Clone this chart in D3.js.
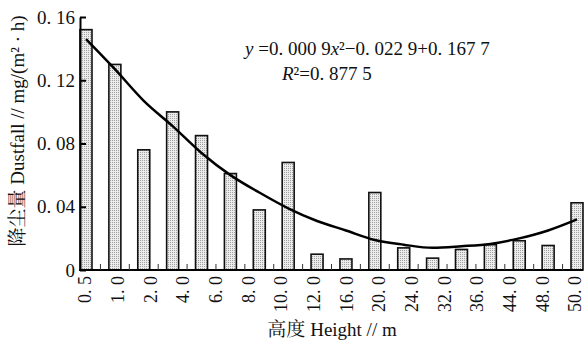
<!DOCTYPE html>
<html>
<head>
<meta charset="utf-8">
<script src="https://cdn.jsdelivr.net/npm/d3@7"></script>
<style>
  body { margin: 0; background: #fff; }
</style>
</head>
<body>
<div id="chart"></div>
<script>
// bars: 18 sampling heights
const barIndex = d3.range(1, 19);
const dustfall = [0.152, 0.130, 0.076, 0.100, 0.085, 0.061, 0.038, 0.068, 0.010,
  0.007, 0.049, 0.014, 0.0075, 0.013, 0.016, 0.0185, 0.0155, 0.0425];
// fitted trend line, read at each bar centre
const trend = [0.146, 0.127, 0.107, 0.091, 0.074, 0.060, 0.049, 0.039, 0.031,
  0.025, 0.019, 0.016, 0.014, 0.015, 0.0165, 0.020, 0.025, 0.032];
// tick labels printed under the axis
const heightLabels = ["0.5", "1.0", "2.0", "4.0", "6.0", "8.0", "10.0", "12.0",
  "16.0", "20.0", "24.0", "32.0", "36.0", "44.0", "48.0", "50.0"];
const yTicks = [0, 0.04, 0.08, 0.12, 0.16];

const width = 586, height = 342;
const SERIF = '"Liberation Serif"';
const SONG = '"Noto Serif CJK SC"';

const svg = d3.select("#chart").append("svg")
  .attr("width", width)
  .attr("height", height)
  .attr("viewBox", `0 0 ${width} ${height}`);

// dotted fill of the bars
const pat = svg.append("defs").append("pattern")
  .attr("id", "dots")
  .attr("width", 2).attr("height", 2)
  .attr("patternUnits", "userSpaceOnUse");
pat.append("rect").attr("width", 2).attr("height", 2).attr("fill", "#ececec");
pat.append("rect").attr("width", 1).attr("height", 1).attr("fill", "#a0a0a0");

const x = d3.scaleBand()
  .domain(barIndex)
  .range([80, 583])
  .paddingInner(0.585)
  .paddingOuter(0);

const xLabel = d3.scalePoint()
  .domain(heightLabels)
  .range([85, 575]);

const y = d3.scaleLinear()
  .domain([0, 0.16])
  .range([270, 17]);

const fmt = (s) => s.replace(".", ". ");

// bars
svg.append("g")
  .selectAll("rect")
  .data(dustfall)
  .join("rect")
  .attr("x", (d, i) => x(barIndex[i]))
  .attr("y", (d) => y(d))
  .attr("width", x.bandwidth())
  .attr("height", (d) => y(0) - y(d))
  .attr("fill", "url(#dots)")
  .attr("stroke", "#111")
  .attr("stroke-width", 1.6);

// trend curve
const line = d3.line()
  .x((d, i) => x(barIndex[i]) + x.bandwidth() / 2)
  .y((d) => y(d))
  .curve(d3.curveMonotoneX);

svg.append("path")
  .datum(trend)
  .attr("d", line)
  .attr("fill", "none")
  .attr("stroke", "#000")
  .attr("stroke-width", 2.5);

// y axis
const yAxis = svg.append("g")
  .attr("transform", `translate(${x.range()[0]},0)`)
  .call(
    d3.axisLeft(y)
      .tickValues(yTicks)
      .tickSizeInner(-6)
      .tickSizeOuter(0)
      .tickPadding(5)
      .tickFormat((d) => (d === 0 ? "0" : fmt(d3.format(".2f")(d))))
  );
yAxis.select(".domain").attr("stroke", "#000").attr("stroke-width", 2);
yAxis.selectAll(".tick line").attr("stroke", "#000").attr("stroke-width", 2);
yAxis.selectAll(".tick text")
  .style("font-family", SERIF)
  .style("font-size", "19px")
  .attr("fill", "#111");

// x axis line
svg.append("line")
  .attr("x1", x.range()[0] - 1)
  .attr("x2", x.range()[1])
  .attr("y1", y(0))
  .attr("y2", y(0))
  .attr("stroke", "#000")
  .attr("stroke-width", 2);

// small ticks between bars
const gap = x.step() - x.bandwidth();
svg.append("g")
  .selectAll("line")
  .data(barIndex.slice(1))
  .join("line")
  .attr("x1", (d) => x(d) - gap / 2)
  .attr("x2", (d) => x(d) - gap / 2)
  .attr("y1", y(0))
  .attr("y2", y(0) - 6)
  .attr("stroke", "#333")
  .attr("stroke-width", 1);

// x tick labels (rotated)
svg.append("g")
  .selectAll("text")
  .data(heightLabels)
  .join("text")
  .attr("transform", (d) => `translate(${xLabel(d)},${y(0) + 6}) rotate(-90)`)
  .attr("text-anchor", "end")
  .attr("dy", "0.35em")
  .style("font-family", SERIF)
  .style("font-size", "18px")
  .attr("fill", "#111")
  .text(fmt);

// axis titles
const xTitle = svg.append("text")
  .attr("x", 332)
  .attr("y", 336)
  .attr("text-anchor", "middle")
  .attr("fill", "#111")
  .style("font-family", SERIF)
  .style("font-size", "19px");
xTitle.append("tspan").style("font-family", SONG).text("高度 ");
xTitle.append("tspan").text("Height // m");

const yTitle = svg.append("text")
  .attr("transform", "translate(24,131) rotate(-90)")
  .attr("text-anchor", "middle")
  .attr("fill", "#111")
  .style("font-family", SERIF)
  .style("font-size", "19px");
yTitle.append("tspan").style("font-family", SONG).text("降尘量 ");
yTitle.append("tspan").text("Dustfall // mg/(m² · h)");

// regression equation
const eq = svg.append("text")
  .attr("x", 245)
  .attr("y", 55)
  .attr("fill", "#111")
  .style("font-family", SERIF)
  .style("font-size", "19px");
eq.append("tspan").style("font-style", "italic").text("y");
eq.append("tspan").text(" =0. 000 9");
eq.append("tspan").style("font-style", "italic").text("x");
eq.append("tspan").text("²−0. 022 9+0. 167 7");

const r2 = svg.append("text")
  .attr("x", 282)
  .attr("y", 80)
  .attr("fill", "#111")
  .style("font-family", SERIF)
  .style("font-size", "19px");
r2.append("tspan").style("font-style", "italic").text("R");
r2.append("tspan").text("²=0. 877 5");
</script>
</body>
</html>
